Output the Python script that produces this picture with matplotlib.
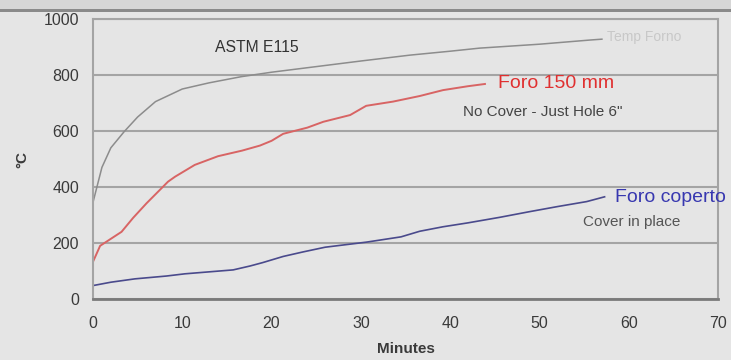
import matplotlib
matplotlib.use("Agg")
import matplotlib.pyplot as plt
from matplotlib.patches import Rectangle

plt.rcParams["font.family"] = ["Liberation Sans", "DejaVu Sans"]

# ── dati ─────────────────────────────────────────────────────────────────────
min_forno = [0, 1, 2, 3.5, 5, 7, 8, 10, 13, 16.6, 20, 25, 30, 35.5, 40, 43.3, 50, 55.7, 57]
temp_forno = [345, 470, 540, 598, 650, 705, 720, 750, 772, 794, 810, 830, 850, 871, 885, 896, 910, 925, 928]

min_foro = [0, 0.8, 2, 3.2, 4.5, 6, 7.5, 8.4, 9.2, 11.4, 14, 16.7, 18.7, 20, 21.3, 24,
            25.8, 28.8, 30.6, 33.6, 36.6, 39.2, 42, 43.9]
temp_foro = [133, 190, 215, 240, 290, 342, 390, 419, 437, 479, 510, 530, 548, 565, 590, 612,
             633, 657, 690, 705, 725, 746, 760, 768]

min_coperto = [0, 2, 4.7, 8.2, 10.3, 13, 15.7, 17.6, 19, 21.3, 23.5, 26, 30.6, 34.5, 36.6,
               39.2, 42, 45.6, 48.9, 52, 55.3, 57.3]
temp_coperto = [48, 60, 72, 82, 90, 97, 104, 118, 130, 152, 168, 185, 203, 222, 242,
                258, 272, 292, 312, 330, 348, 365]

xticks = [0, 10, 20, 30, 40, 50, 60, 70]
yticks = [0, 200, 400, 600, 800, 1000]

sfondo = "#e5e5e5"

fig = plt.figure(figsize=(7.31, 3.60), dpi=100, facecolor=sfondo)
ax = fig.add_axes([0.1272, 0.1694, 0.855, 0.7778])
ax.set_facecolor(sfondo)

# barra scura in alto
fig.patches.append(Rectangle((0, 0.975), 1, 0.025, transform=fig.transFigure,
                             facecolor="#d6d6d6", edgecolor="none", zorder=0))
fig.patches.append(Rectangle((0, 0.967), 1, 0.009, transform=fig.transFigure,
                             facecolor="#8a8a8a", edgecolor="none", zorder=0))

ax.plot(min_forno, temp_forno, color="#8c8c8c", lw=1.1)
ax.plot(min_foro, temp_foro, color="#d86464", lw=1.4)
ax.plot(min_coperto, temp_coperto, color="#4a4a8c", lw=1.2)

ax.set_xlim(0, 70)
ax.set_ylim(0, 1000)
ax.set_xticks(xticks)
ax.set_yticks(yticks)
ax.tick_params(length=0, labelsize=11.5, labelcolor="#3a3a3a")
ax.tick_params(axis="x", pad=12)
ax.tick_params(axis="y", pad=10)
ax.yaxis.grid(True, color="#a4a4a4", lw=1.5)
ax.set_axisbelow(True)

for lato in ["left", "right", "top"]:
    ax.spines[lato].set_color("#a4a4a4")
    ax.spines[lato].set_linewidth(1.5)
ax.spines["bottom"].set_color("#7a7a7a")
ax.spines["bottom"].set_linewidth(2)

ax.set_xlabel("Minutes", fontsize=11, fontweight="bold", color="#3a3a3a", labelpad=8)
ax.set_ylabel("°C", fontsize=11, fontweight="bold", color="#3a3a3a", labelpad=10)

ax.text(13.7, 900, "ASTM E115", fontsize=11.3, color="#333333", va="center")
ax.text(57.6, 936, "Temp Forno", fontsize=10, color="#c8c8c8", va="center")
ax.text(45.4, 771, "Foro 150 mm", fontsize=14, color="#e03030", va="center")
ax.text(41.4, 668, 'No Cover - Just Hole 6"', fontsize=11, color="#444444", va="center")
ax.text(58.5, 361, "Foro coperto", fontsize=14, color="#3838b0", va="center", clip_on=False)
ax.text(54.9, 275, "Cover in place", fontsize=11, color="#555555", va="center")

fig.savefig("out.png", dpi=100, facecolor=sfondo)
